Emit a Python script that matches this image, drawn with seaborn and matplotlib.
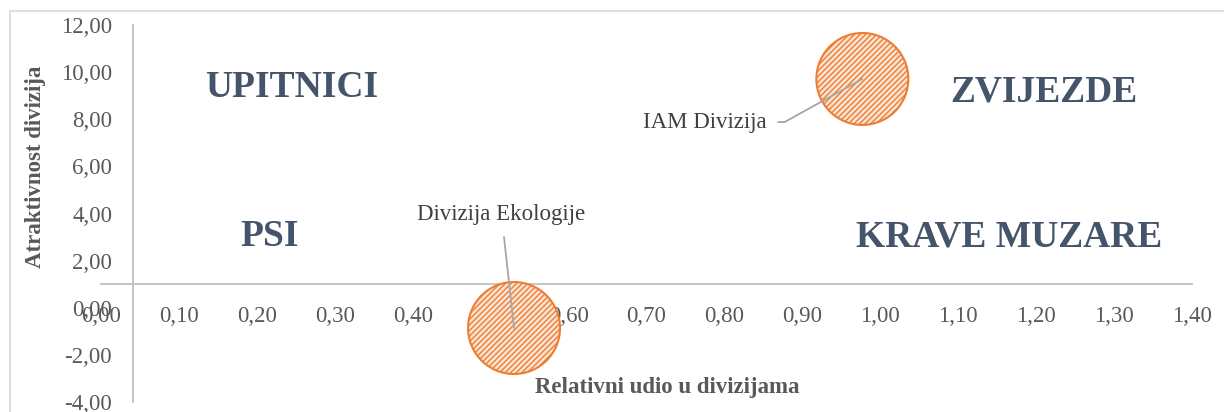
import numpy as np
import pandas as pd
import matplotlib
matplotlib.use("Agg")
import matplotlib.pyplot as plt
import matplotlib.ticker as ticker
from matplotlib.patches import Rectangle
import seaborn as sns

# data
divisions = ["IAM Divizija", "Divizija Ekologije"]
relative_share = [0.977, 0.53]
attractiveness = [9.71, -0.86]

quadrants = ["UPITNICI", "PSI", "ZVIJEZDE", "KRAVE MUZARE"]
quad_x = [0.245, 0.217, 1.210, 1.165]
quad_y = [9.33, 3.04, 9.16, 3.00]

x_ticks = np.arange(0, 1.41, 0.1)
y_ticks = np.arange(-4, 12.1, 2)

sns.set_theme(style='white')
plt.rcParams['font.family'] = ['Liberation Serif', 'DejaVu Serif']
plt.rcParams['hatch.linewidth'] = 1.0

df = pd.DataFrame({'Divizija': divisions, 'x': relative_share, 'y': attractiveness})

fig = plt.figure(figsize=(12.24, 4.12), dpi=100)
ax = fig.add_axes([101 / 1224, 10 / 412, 1091 / 1224, 377 / 412])

grey = '#BFBFBF'
txt = '#595959'
orange = '#ED7D31'

sns.scatterplot(data=df, x='x', y='y', s=4385, color='#FBE3D4', edgecolor=orange,
                linewidth=1.5, hatch='//////', ax=ax, legend=False, zorder=3)

ax.set_xlim(0, 1.4)
ax.set_ylim(-4, 12)

# axes cross like in excel: x axis at y=1, y axis at x~0.041
for s in ['top', 'right']:
    ax.spines[s].set_visible(False)
ax.spines['bottom'].set_position(('data', 1))
ax.spines['left'].set_position(('data', 0.041))
for s in ['bottom', 'left']:
    ax.spines[s].set_color(grey)
    ax.spines[s].set_linewidth(1.3)
    ax.spines[s].set_zorder(1)

fmt = ticker.FuncFormatter(lambda v, p: f"{v:.2f}".replace('.', ','))
ax.set_xticks(x_ticks)
ax.set_yticks(y_ticks)
ax.xaxis.set_major_formatter(fmt)
ax.yaxis.set_major_formatter(fmt)
ax.tick_params(axis='x', length=0, pad=16, labelsize=16.5, labelcolor=txt)
ax.tick_params(axis='y', length=0, pad=15, labelsize=16.5, labelcolor=txt)
ax.set_xlabel('')
ax.set_ylabel('')

# quadrant names
for name, qx, qy in zip(quadrants, quad_x, quad_y):
    ax.text(qx, qy, name, ha='center', va='center', fontsize=27,
            fontweight='bold', color='#44546A')

# data labels with leader lines
ax.annotate(divisions[0], xy=(relative_share[0], attractiveness[0]),
            xytext=(0.854, 7.88), ha='right', va='center', fontsize=16.5, color='#404040',
            arrowprops=dict(arrowstyle='-', color='#A6A6A6', lw=1.3, shrinkA=6, shrinkB=0,
                            connectionstyle='angle,angleA=0,angleB=29,rad=0'),
            zorder=4)
ax.annotate(divisions[1], xy=(relative_share[1], attractiveness[1]),
            xytext=(0.514, 3.94), ha='center', va='center', fontsize=16.5, color='#404040',
            arrowprops=dict(arrowstyle='-', color='#A6A6A6', lw=1.3, shrinkA=6, shrinkB=0),
            zorder=4)

fig.text(667 / 1224, 24 / 412, 'Relativni udio u divizijama', ha='center', va='center',
         fontsize=16.5, fontweight='bold', color=txt)
fig.text(36 / 1224, 245 / 412, 'Atraktivnost divizija', ha='center', va='center',
         rotation=90, fontsize=16.5, fontweight='bold', color=txt)

# chart area border (cropped in the original)
fig.patches.append(Rectangle((10 / 1224, -0.1), 1.2, 1.1 - 11 / 412 + 0.0, transform=fig.transFigure,
                             fill=False, edgecolor='#D9D9D9', lw=1.2))

fig.savefig('out.png', dpi=100)
